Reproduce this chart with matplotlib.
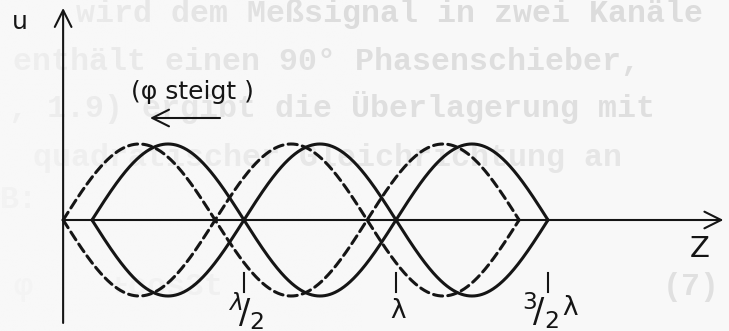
import numpy as np
import matplotlib
matplotlib.use("Agg")
import matplotlib.pyplot as plt

plt.rcParams["mathtext.fontset"] = "dejavusans"

# standing wave envelope, z in units of the wavelength
wavelength = 1.0
amplitude = 1.0
n_half_waves = 3
solid_shift = 0.0       # reference phase
dashed_shift = -0.095   # phase increased -> pattern moves to smaller z
u_axis_z = -0.095
z_arrow_tip = 2.077
u_arrow_tip = 2.79
u_axis_bottom = -1.355

tick_z = [0.5, 1.0, 1.5]
tick_labels = [r"${}^{\lambda}\!/{}_{2}$", "λ", r"${}^{3}\!/{}_{2}$"]
tick_suffix = ["", "", "λ"]

# faint typewritten text showing through the page: text, x, baseline, align, grey
page_lines = [
    ("wird dem Meßsignal in zwei Kanäle", 703, 22, "right", "#dcdcdc"),
    ("enthält einen 90° Phasenschieber,", 640, 70, "right", "#dedede"),
    (", 1.9) ergibt die Überlagerung mit", 655, 117, "right", "#dfdfdf"),
    ("quadratischer Gleichrichtung an", 622, 166, "right", "#e6e6e6"),
    ("B:", 0, 208, "left", "#e8e8e8"),
    ("φ    +cos3t", 14, 295, "left", "#eeeeee"),
    ("(7)", 720, 295, "right", "#e0e0e0"),
]

W, H = 729, 331
X0, SX = 92, 304   # pixel of z=0, pixels per wavelength
Y0, SY = 220, 76   # pixel of u=0, pixels per unit amplitude
paper = "#f8f8f8"
ink = "#151515"


def px(x, y):
    return (x - X0) / SX, (Y0 - y) / SY


fig = plt.figure(figsize=(W / 100, H / 100), dpi=100)
fig.patch.set_facecolor(paper)
ax = fig.add_axes([0, 0, 1, 1])
ax.set_facecolor(paper)
xlim = (px(0, 0)[0], px(W, 0)[0])
ylim = (px(0, H)[1], px(0, 0)[1])

for text, x, y, ha, grey in page_lines:
    ax.text(x / W, 1 - y / H, text, ha=ha, va="baseline", fontsize=22.8,
            family="Liberation Mono", weight="bold", color=grey,
            transform=ax.transAxes, zorder=0, clip_on=True)

# the show-through fades towards the left margin
fade = np.zeros((2, 256, 4))
fade[..., :3] = matplotlib.colors.to_rgb(paper)
fade[..., 3] = np.clip(0.7 * (1 - np.linspace(0, 1, 256) / 0.5), 0, None)
ax.imshow(fade, extent=(*xlim, *ylim), aspect="auto", zorder=0.5,
          interpolation="bilinear")

# envelopes +-|sin| for the two phases
for shift, style in [(solid_shift, "-"), (dashed_shift, (0, (3.0, 1.7)))]:
    z = np.linspace(shift, shift + n_half_waves * wavelength / 2, 900)
    u = amplitude * np.abs(np.sin(2 * np.pi * (z - shift) / wavelength))
    for sign in (1, -1):
        ax.plot(z, sign * u, color=ink, lw=2.2, linestyle=style,
                solid_capstyle="round", dash_capstyle="round", zorder=2)

arrow = dict(arrowstyle="->,head_length=0.6,head_width=0.3", lw=1.5,
             color=ink, mutation_scale=20, shrinkA=0, shrinkB=0)

# z axis and u axis
ax.annotate("", xy=(z_arrow_tip, 0), xytext=(u_axis_z, 0), arrowprops=arrow)
ax.annotate("", xy=(u_axis_z, u_arrow_tip), xytext=(u_axis_z, u_axis_bottom),
            arrowprops=arrow)

ax.text(*px(20, 22), "u", fontsize=18, ha="center", va="center", color=ink)
ax.text(*px(700, 249), "Z", fontsize=21, ha="center", va="center", color=ink)

# ticks at the nodes
u_lab = (Y0 - 311) / SY
for t, lab, suffix in zip(tick_z, tick_labels, tick_suffix):
    ax.plot([t, t], [-0.70, -0.95], color=ink, lw=1.5)
    if suffix:
        ax.text(t - 8 / SX, u_lab, lab, fontsize=24, ha="center",
                va="center", color=ink)
        ax.text(t + 22 / SX, u_lab + 3 / SY, suffix, fontsize=19,
                ha="center", va="center", color=ink)
    else:
        ax.text(t + 2 / SX, u_lab, lab, fontsize=24 if "/" in lab else 19,
                ha="center", va="center", color=ink)

# direction of the shift with increasing phase
ax.text(*px(192, 92), "(φ steigt )", fontsize=18, ha="center", va="center",
        color=ink, zorder=3)
ax.annotate("", xy=px(150, 118), xytext=px(220, 118), arrowprops=arrow)

ax.set_xlim(*xlim)
ax.set_ylim(*ylim)
ax.axis("off")

fig.savefig("out.png", dpi=100, facecolor=fig.get_facecolor())
